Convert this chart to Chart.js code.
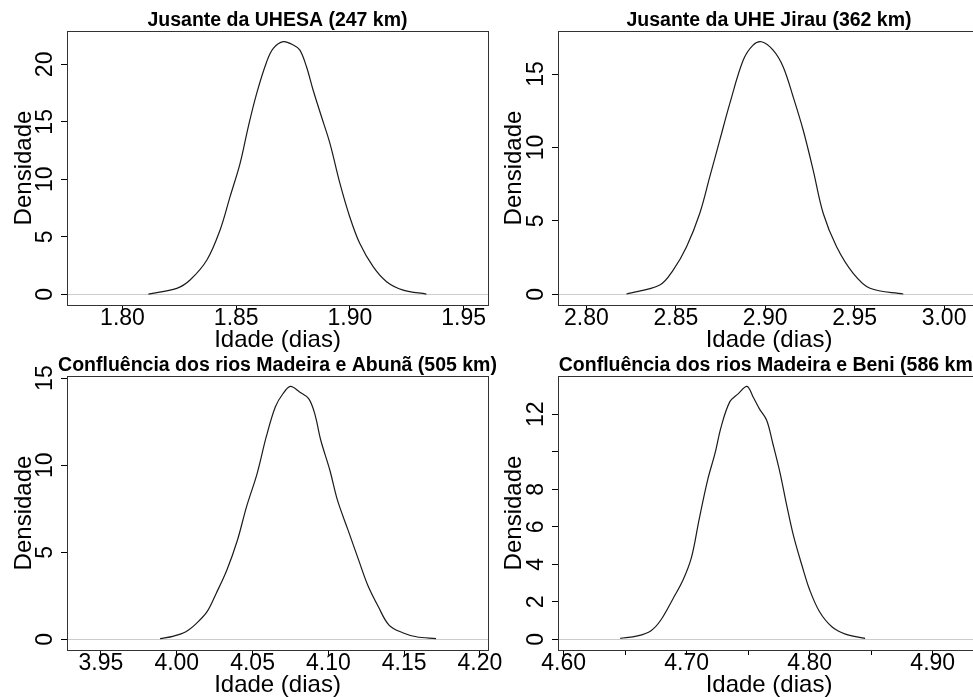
<!DOCTYPE html>
<html>
<head>
<meta charset="utf-8">
<script src="https://cdn.jsdelivr.net/npm/chart.js@4.4.0/dist/chart.umd.min.js"></script>
<style>
html, body { margin: 0; padding: 0; background: #fff; overflow: hidden; width: 973px; height: 697px; }
canvas { position: absolute; }
</style>
</head>
<body>
<canvas id="c1" width="555" height="352" style="left:0;top:0"></canvas>
<canvas id="c2" width="558" height="352" style="left:490px;top:0"></canvas>
<canvas id="c3" width="555" height="352" style="left:0;top:345px"></canvas>
<canvas id="c4" width="558" height="352" style="left:490px;top:345px"></canvas>
<script>
// densidade da idade da agua em quatro pontos do rio Madeira

const idadeUhesa = [1.8114, 1.8239, 1.8297, 1.8371, 1.8429, 1.8473, 1.8517, 1.8553, 1.859, 1.8634, 1.8663, 1.8707, 1.8751, 1.878, 1.8809, 1.8838, 1.8875, 1.8912, 1.8956, 1.8999, 1.9043, 1.9102, 1.9161, 1.9234, 1.9336];
const densUhesa = [0.02, 0.52, 1.24, 2.98, 5.59, 8.49, 11.39, 14.57, 17.48, 20.23, 21.39, 21.97, 21.68, 21.24, 19.79, 17.77, 15.44, 13.13, 9.65, 6.75, 4.43, 2.4, 1.1, 0.37, 0.02];

const idadeJirau = [2.8224, 2.841, 2.8485, 2.856, 2.8634, 2.869, 2.8746, 2.8802, 2.8877, 2.8932, 2.8979, 2.9044, 2.91, 2.9156, 2.9212, 2.9268, 2.9324, 2.9399, 2.9492, 2.9586, 2.9772];
const densJirau = [0.02, 0.63, 1.65, 3.24, 5.52, 8.01, 10.51, 13.0, 15.95, 16.97, 17.2, 16.63, 15.5, 13.45, 11.19, 8.46, 5.52, 3.24, 1.43, 0.41, 0.02];

const idadeAbuna = [3.989, 3.998, 4.006, 4.013, 4.020, 4.026, 4.033, 4.040, 4.046, 4.053, 4.059, 4.065, 4.070, 4.075, 4.081, 4.087, 4.091, 4.095, 4.101, 4.106, 4.113, 4.120, 4.126, 4.133, 4.140, 4.149, 4.158, 4.171];
const densAbuna = [0.04, 0.19, 0.44, 0.92, 1.59, 2.64, 3.97, 5.69, 7.61, 9.52, 11.62, 13.34, 14.10, 14.52, 14.20, 13.82, 12.96, 11.43, 9.71, 7.99, 6.27, 4.55, 3.11, 1.87, 0.82, 0.38, 0.15, 0.04];

const idadeBeni = [4.646, 4.660, 4.671, 4.679, 4.689, 4.697, 4.704, 4.710, 4.717, 4.723, 4.728, 4.735, 4.742, 4.749, 4.754, 4.759, 4.765, 4.770, 4.776, 4.781, 4.787, 4.794, 4.800, 4.808, 4.818, 4.829, 4.845];
const densBeni = [0.05, 0.18, 0.46, 1.03, 2.18, 3.16, 4.40, 6.36, 8.49, 9.91, 11.33, 12.66, 13.10, 13.49, 12.92, 12.30, 11.68, 10.44, 8.84, 7.24, 5.47, 3.87, 2.63, 1.47, 0.67, 0.28, 0.05];

// ticks
const xTicksUhesa = [1.80, 1.85, 1.90, 1.95];
const xLabelsUhesa = ['1.80', '1.85', '1.90', '1.95'];
const xTicksJirau = [2.80, 2.85, 2.90, 2.95, 3.00];
const xLabelsJirau = ['2.80', '2.85', '2.90', '2.95', '3.00'];
const xTicksAbuna = [3.95, 4.00, 4.05, 4.10, 4.15, 4.20];
const xLabelsAbuna = ['3.95', '4.00', '4.05', '4.10', '4.15', '4.20'];
const xTicksBeni = [4.60, 4.65, 4.70, 4.75, 4.80, 4.85, 4.90];
const xLabelsBeni = ['4.60', '', '4.70', '', '4.80', '', '4.90'];

const yTicks20 = [0, 5, 10, 15, 20];
const yLabels20 = ['0', '5', '10', '15', '20'];
const yTicks15 = [0, 5, 10, 15];
const yLabels15 = ['0', '5', '10', '15'];
const yTicksBeni = [0, 2, 4, 6, 8, 10, 12];
const yLabelsBeni = ['0', '2', '4', '6', '8', '', '12'];

Chart.defaults.font.family = "'Liberation Sans', Arial, sans-serif";
Chart.defaults.color = '#000';

// caixa em volta da area do grafico
const moldura = {
  id: 'moldura',
  afterDraw(chart) {
    const a = chart.chartArea;
    const ctx = chart.ctx;
    ctx.save();
    ctx.strokeStyle = '#333';
    ctx.lineWidth = 1;
    ctx.strokeRect(Math.round(a.left) + 0.5, Math.round(a.top) + 0.5, Math.round(a.right - a.left), Math.round(a.bottom - a.top));
    ctx.restore();
  }
};

function painel(id, titulo, idade, dens, xTicks, xLabels, yTicks, yLabels, xMin, xMax, yMin, yMax, yWidth) {
  const ctx = document.getElementById(id).getContext('2d');
  return new Chart(ctx, {
    type: 'line',
    data: {
      datasets: [{
        data: idade.map((x, i) => ({ x: x, y: dens[i] })),
        borderColor: '#1a1a1a',
        borderWidth: 1.2,
        pointRadius: 0,
        tension: 0.35,
        fill: false
      }]
    },
    options: {
      responsive: false,
      animation: false,
      layout: { padding: 0, autoPadding: false },
      plugins: {
        legend: { display: false },
        tooltip: { enabled: false },
        title: {
          display: true,
          text: titulo,
          color: '#000',
          font: { size: 19.5, weight: 'bold', lineHeight: 1 },
          padding: { top: 10.4, bottom: 1.1 }
        }
      },
      scales: {
        x: {
          type: 'linear',
          min: xMin,
          max: xMax,
          afterBuildTicks: s => { s.ticks = xTicks.map(v => ({ value: v })); },
          afterFit: s => { s.height = 47; },
          ticks: { callback: (v, i) => xLabels[i], font: { size: 23, lineHeight: 1 }, padding: -3, maxRotation: 0, autoSkip: false },
          grid: { drawOnChartArea: false, drawTicks: true, tickLength: 5, tickColor: '#000' },
          border: { color: '#333' },
          title: { display: true, text: 'Idade (dias)', font: { size: 24, lineHeight: 1 }, padding: 0 }
        },
        y: {
          min: yMin,
          max: yMax,
          afterBuildTicks: s => { s.ticks = yTicks.map(v => ({ value: v })); },
          afterFit: s => { s.width = yWidth; },
          ticks: { callback: (v, i) => yLabels[i], font: { size: 23 }, minRotation: 90, maxRotation: 90, crossAlign: 'center', padding: 2.4, autoSkip: false },
          grid: {
            color: c => (c.tick && c.tick.value === 0) ? '#cccccc' : 'rgba(0,0,0,0)',
            tickColor: '#000',
            tickLength: 6,
            drawTicks: true
          },
          border: { color: '#333' },
          title: { display: true, text: 'Densidade', font: { size: 24 }, padding: { top: 9.6 } }
        },
        // eixo vazio a direita, so para centrar o titulo sobre a area do grafico
        y2: {
          position: 'right',
          min: yMin,
          max: yMax,
          grid: { display: false },
          ticks: { display: false },
          border: { display: false },
          afterFit: s => { s.width = yWidth; }
        }
      }
    },
    plugins: [moldura]
  });
}

painel('c1', 'Jusante da UHESA (247 km)', idadeUhesa, densUhesa, xTicksUhesa, xLabelsUhesa, yTicks20, yLabels20, 1.7756, 1.9607, -0.93, 22.9, 67);
painel('c2', 'Jusante da UHE Jirau (362 km)', idadeJirau, densJirau, xTicksJirau, xLabelsJirau, yTicks15, yLabels15, 2.7841, 3.0201, -0.73, 17.93, 68);
painel('c3', 'Confluência dos rios Madeira e Abunã (505 km)', idadeAbuna, densAbuna, xTicksAbuna, xLabelsAbuna, yTicks15, yLabels15, 3.9276, 4.2053, -0.61, 15.12, 67);
painel('c4', 'Confluência dos rios Madeira e Beni (586 km)', idadeBeni, densBeni, xTicksBeni, xLabelsBeni, yTicksBeni, yLabelsBeni, 4.5954, 4.9384, -0.57, 14.04, 68);
</script>
</body>
</html>
